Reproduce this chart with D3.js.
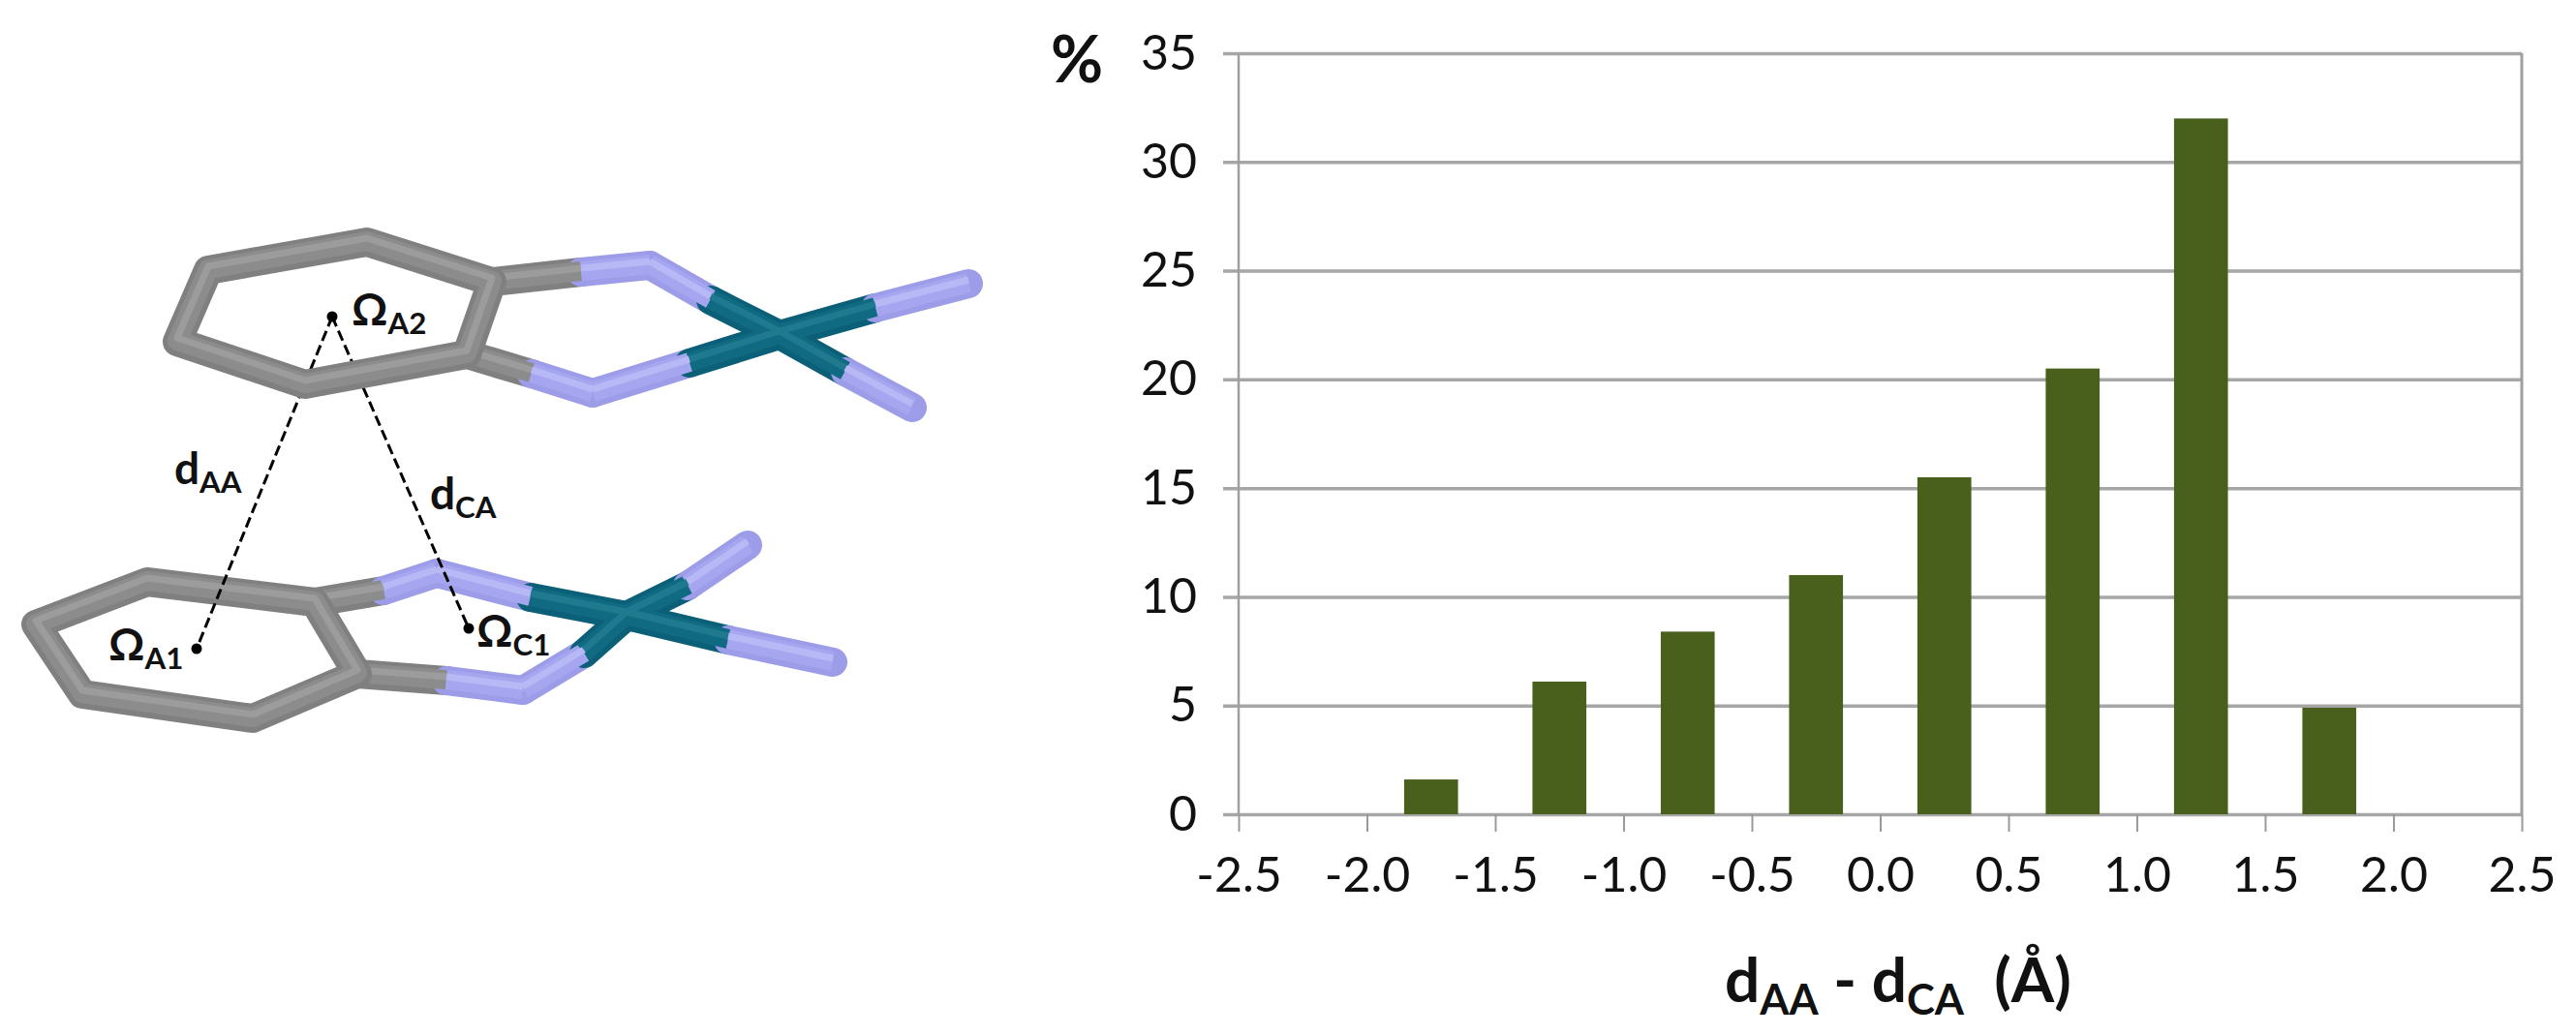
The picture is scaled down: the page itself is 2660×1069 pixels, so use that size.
<!DOCTYPE html>
<html><head><meta charset="utf-8">
<script src="https://cdn.jsdelivr.net/npm/d3@7"></script>
<style>html,body{margin:0;background:#fff}svg{display:block}text{fill:#111}</style>
</head><body><svg id="c" width="2660" height="1069"></svg>
<script>
// chart data
const binCentres=[-1.75,-1.25,-0.75,-0.25,0.25,0.75,1.25,1.75];
const percents=[1.6,6.1,8.4,11.0,15.5,20.5,32.0,4.9];
const xTicks=[-2.5,-2,-1.5,-1,-0.5,0,0.5,1,1.5,2,2.5];
const yTicks=[0,5,10,15,20,25,30,35];
// molecule sketch: [start, colour switch, end, first colour, second colour]
const upperRing=[[215,279],[379,250],[508,291],[482,366],[315,397],[183,353]];
const lowerRing=[[152,601],[325,622],[369,696],[261,742],[85,717],[37,645]];
const upperBonds=[[[508,291],[600,281],[671,274],"c","n"],[[671,274],[734,310],[805,346],"n","m"],
 [[482,366],[549,386],[612,406],"c","n"],[[612,406],[712,375],[805,346],"n","m"],
 [[805,346],[904,318],[1000,293],"m","n"],[[805,346],[873,384],[942,421],"m","n"]];
const lowerBonds=[[[325,622],[396,610],[451,592],"c","n"],[[451,592],[548,617],[647,636],"n","m"],
 [[369,696],[461,703],[540,713],"c","n"],[[540,713],[603,675],[647,636],"n","m"],
 [[647,636],[710,605],[772,563],"m","n"],[[647,636],[752,661],[860,684],"m","n"]];
const centroids={A2:[343,327],A1:[203,670],C1:[484,649]};
const distances=[["A2","A1"],["A2","C1"]];
// stick shading: outer edge, body, highlight
const atomShades={c:["#808080","#8c8c8c","#9c9c9c"],n:["#9c9ce8","#a6a6f0","#b8b8f6"],m:["#0b6078","#0f6a82","#1f7a90"]};
const stickLayers=[[30,0,0],[20,1,-1],[7,2,-4]];

const svg=d3.select("#c");
const sans="Lato, 'Open Sans', sans-serif";
const x=d3.scaleLinear().domain([-2.5,2.5]).range([1279,2604]);
const y=d3.scaleLinear().domain([0,35]).range([841,55]);
const barW=x(0.21)-x(0);

// y axis / gridlines
const gy=svg.append("g").attr("transform","translate(1279,0)")
 .call(d3.axisLeft(y).tickValues(yTicks).tickSizeInner(0).tickSizeOuter(0).tickPadding(43));
gy.select(".domain").remove();
gy.selectAll(".tick line").attr("x1",-16).attr("x2",x(2.5)-x(-2.5)).attr("stroke","#a6a6a6").attr("stroke-width",3.5);
gy.selectAll("text").attr("font-family",sans).attr("font-size",50).attr("fill","#111");
[-2.5,2.5].forEach(v=>svg.append("line").attr("x1",x(v)).attr("x2",x(v)).attr("y1",y(35)).attr("y2",y(0)).attr("stroke","#a0a0a0").attr("stroke-width",v<0?2.5:3));

// bars
svg.selectAll("rect.bar").data(binCentres).join("rect").attr("class","bar")
 .attr("x",d=>x(d)-barW/2).attr("width",barW)
 .attr("y",(d,i)=>y(percents[i])).attr("height",(d,i)=>y(0)-y(percents[i]))
 .attr("fill","#48601c");

// x axis
const gx=svg.append("g").attr("transform","translate(0,841)")
 .call(d3.axisBottom(x).tickValues(xTicks).tickFormat(d=>d3.format(".1f")(d).replace("\u2212","-")).tickSizeInner(18).tickSizeOuter(0).tickPadding(26));
gx.select(".domain").remove();
gx.selectAll(".tick line").attr("stroke","#9a9a9a").attr("stroke-width",2);
gx.selectAll("text").attr("font-family",sans).attr("font-size",50).attr("fill","#111");

// titles
svg.append("text").attr("x",1085).attr("y",85).attr("font-family",sans).attr("font-weight",700).attr("font-size",66).text("%");
function subText(sel,px,py,size,parts){
 const t=sel.append("text").attr("x",px).attr("y",py).attr("font-family",sans).attr("font-weight",700).attr("font-size",size).attr("xml:space","preserve");
 let shift=0;
 parts.forEach(([s,sub])=>{const want=sub?size*0.2:0;
   t.append("tspan").attr("font-size",sub?size*0.68:size).attr("dy",want-shift).text(s);shift=want;});
 return t;
}
subText(svg,1781,1035,64,[["d"],["AA",1],[" - d"],["CA",1],["  (Å)"]]);

// molecule
const line=d3.line();
function drawRing(g,pts){
 const closed=line(pts)+"Z";
 stickLayers.forEach(([w,s,dy])=>g.append("path").attr("d",closed).attr("fill","none")
  .attr("stroke",atomShades.c[s]).attr("stroke-width",w).attr("stroke-linejoin","round").attr("transform",`translate(0,${dy})`));
}
function drawBonds(g,bonds){
 stickLayers.forEach(([w,s,dy])=>bonds.forEach(([a,m,b,c1,c2])=>{
  [[a,m,c1],[m,b,c2]].forEach(([p,q,c])=>{
   g.append("line").attr("x1",p[0]).attr("y1",p[1]+dy).attr("x2",q[0]).attr("y2",q[1]+dy)
    .attr("stroke",atomShades[c][s]).attr("stroke-width",w).attr("stroke-linecap",s==0?"round":"butt");
  });
 }));
}
const lowerG=svg.append("g");
drawBonds(lowerG,lowerBonds);drawRing(lowerG,lowerRing);
distances.forEach(([p,q])=>svg.append("line")
 .attr("x1",centroids[p][0]).attr("y1",centroids[p][1]).attr("x2",centroids[q][0]).attr("y2",centroids[q][1])
 .attr("stroke","#000").attr("stroke-width",3).attr("stroke-dasharray","11 5"));
const upperG=svg.append("g");
drawBonds(upperG,upperBonds);drawRing(upperG,upperRing);
Object.values(centroids).forEach(c=>svg.append("circle").attr("cx",c[0]).attr("cy",c[1]).attr("r",5.5).attr("fill","#000"));
subText(svg,363,336,46,[["Ω"],["A2",1]]);
subText(svg,112,682,46,[["Ω"],["A1",1]]);
subText(svg,492,668,46,[["Ω"],["C1",1]]);
subText(svg,180,500,46,[["d"],["AA",1]]);
subText(svg,444,526,46,[["d"],["CA",1]]);
</script></body></html>
